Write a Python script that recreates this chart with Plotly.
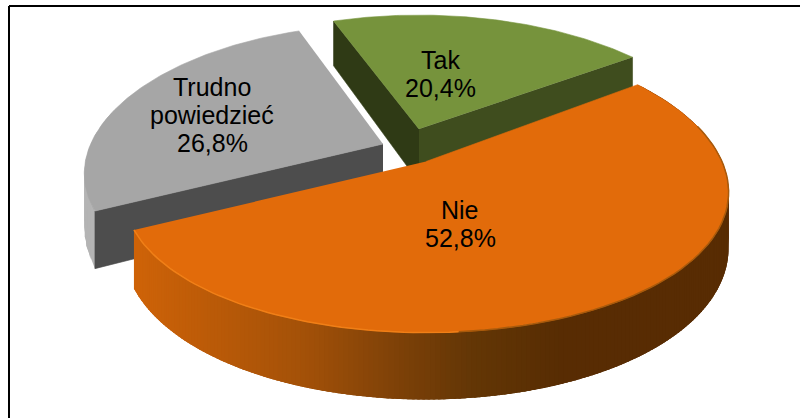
import numpy as np
import plotly.graph_objects as go

categories = ["Tak", "Nie", "Trudno powiedzieć"]
values = [20.4, 52.8, 26.8]
label_lines = [["Tak"], ["Nie"], ["Trudno", "powiedzieć"]]

# --- styling / projection constants (not data) ---
START = -20.0
TOP = ["#76933C", "#E26B0A", "#A6A6A6"]
# centre x, centre y, depth offset for x scale, depth offset for y scale
CENTER = [(419, 129, -0.05, 0.45), (426, 161.5, 0.0, 0.0), (383, 144, 0.06, 0.12)]
LABEL_POS = [(440, 60), (460, 210), (212, 87)]
WALL_A = ["#3F4D1E", "#6B3505", "#4D4D4D"]
WALL_B = ["#2F3A15", "#6B3505", "#4D4D4D"]
A, B, KX, KY, H = 296.0, 142.0, 0.208, 0.17, 53.0
FS = 25

def proj(i, theta, r=1.0, z=0.0):
    cx, cy, dx, dy = CENTER[i]
    t = np.radians(theta)
    X, Y = np.sin(t) * r, np.cos(t) * r
    sx = 1.0 / (1.0 + KX * (Y + dx))
    sy = 1.0 / (1.0 + KY * (Y + dy))
    return cx + A * X * sx, cy - B * Y * sy + z * H * sx

fig = go.Figure()

def poly(xs, ys, color, lw=0.6):
    fig.add_trace(go.Scatter(x=list(xs), y=list(ys), mode="lines", fill="toself",
                             fillcolor=color, line=dict(color=color, width=lw),
                             hoverinfo="skip", showlegend=False))

def wall_arc(i, a0, a1, n, colorfn):
    th = np.linspace(a0, a1, n + 1)
    step = (a1 - a0) / n
    for u, v in zip(th[:-1], th[1:]):
        w = min(v + 1.5 * step, a1)   # overlap the next strip to hide seams
        p = [proj(i, u), proj(i, w), proj(i, w, z=1), proj(i, u, z=1)]
        poly([q[0] for q in p], [q[1] for q in p], colorfn(proj(i, (u + v) / 2)[0]), lw=0)

def wall_cut(i, a, color):
    p = [proj(i, a, r=0), proj(i, a), proj(i, a, z=1), proj(i, a, r=0, z=1)]
    poly([q[0] for q in p], [q[1] for q in p], color)

def top(i, a0, a1):
    th = np.linspace(a0, a1, 120)
    pts = [proj(i, 0, r=0)] + [proj(i, t) for t in th]
    poly([q[0] for q in pts], [q[1] for q in pts], TOP[i])

edges = [START]
for v in values:
    edges.append(edges[-1] + 3.6 * v)

ORANGE_X = [130, 200, 300, 400, 470, 560, 740]
ORANGE_R = [208, 190, 165, 125, 100, 88, 88]
ORANGE_G = [100, 92, 82, 65, 55, 45, 44]
ORANGE_B = [8, 8, 8, 8, 6, 3, 3]
def orange(x):
    return "rgb(%d,%d,%d)" % (np.interp(x, ORANGE_X, ORANGE_R),
                              np.interp(x, ORANGE_X, ORANGE_G),
                              np.interp(x, ORANGE_X, ORANGE_B))

# gray slice (back left)
wall_arc(2, edges[2], edges[2] + 40, 12, lambda x: "#B4B4B4")
wall_cut(2, edges[2], WALL_A[2])
top(2, edges[2], edges[3])

# green slice (back)
wall_cut(0, edges[0], WALL_B[0])
wall_cut(0, edges[1], WALL_A[0])
top(0, edges[0], edges[1])

# orange slice (front)
wall_arc(1, edges[1], edges[2], 240, orange)
top(1, edges[1], edges[2])
soft = [proj(1, t) for t in np.linspace(175, 75, 50)]
fig.add_trace(go.Scatter(x=[q[0] for q in soft], y=[q[1] for q in soft], mode="lines",
                         line=dict(color="#A85A0C", width=1.5),
                         hoverinfo="skip", showlegend=False))
hl = [proj(1, t) for t in np.linspace(edges[2], 175, 50)]
fig.add_trace(go.Scatter(x=[q[0] for q in hl], y=[q[1] for q in hl], mode="lines",
                         line=dict(color="#F07F17", width=1.5),
                         hoverinfo="skip", showlegend=False))

# labels
LH = 28
for i, (lines, v) in enumerate(zip(label_lines, values)):
    rows = lines + [f"{v:.1f}".replace(".", ",") + "%"]
    x, y = LABEL_POS[i]
    for j, row in enumerate(rows):
        fig.add_annotation(x=x, y=y + j * LH, text=row, showarrow=False,
                           xanchor="center", yanchor="middle",
                           font=dict(family="Liberation Sans", size=FS, color="#000000"))

fig.add_shape(type="line", x0=9, x1=9, y0=6, y1=418, line=dict(color="#000", width=2))
fig.add_shape(type="line", x0=9, x1=800, y0=6, y1=6, line=dict(color="#000", width=2))

fig.update_layout(width=800, height=418, margin=dict(l=0, r=0, t=0, b=0),
                  paper_bgcolor="white", plot_bgcolor="white", showlegend=False,
                  xaxis=dict(range=[0, 800], visible=False, fixedrange=True),
                  yaxis=dict(range=[418, 0], visible=False, fixedrange=True))
fig.write_html("out.html", config={"displayModeBar": False},
               post_script="document.body.style.margin='0';document.body.style.overflow='hidden';")
